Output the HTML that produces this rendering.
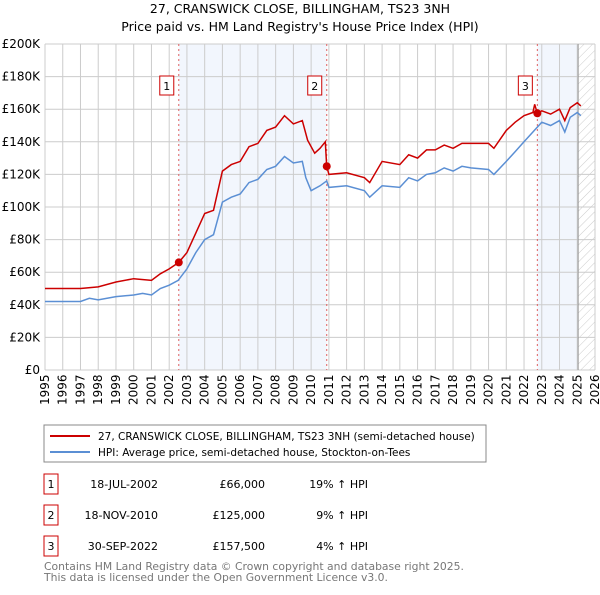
<!DOCTYPE html>
<html><head><meta charset="utf-8"><style>
body{margin:0;background:#fff;font-family:"Liberation Sans","DejaVu Sans",sans-serif;}
svg text{font-family:"DejaVu Sans","Liberation Sans",sans-serif;}
</style></head><body>
<svg id="c" width="600" height="590" xmlns="http://www.w3.org/2000/svg">
<defs><pattern id="hatch" width="6" height="6" patternUnits="userSpaceOnUse" patternTransform="rotate(45)"><rect width="6" height="6" fill="#fff"/><line x1="0" y1="0" x2="0" y2="6" stroke="#ccc" stroke-width="1"/></pattern></defs>
<text x="300" y="13" text-anchor="middle" font-size="12.5">27, CRANSWICK CLOSE, BILLINGHAM, TS23 3NH</text>
<text x="300" y="31" text-anchor="middle" font-size="12.5">Price paid vs. HM Land Registry's House Price Index (HPI)</text>
<g id="plot"></g>
<rect x="44" y="425" width="442" height="37" fill="#fff" stroke="#888"/>
<line x1="50" y1="436" x2="90" y2="436" stroke="#cc0000" stroke-width="2"/>
<text x="98" y="440" font-size="10.5">27, CRANSWICK CLOSE, BILLINGHAM, TS23 3NH (semi-detached house)</text>
<line x1="50" y1="452" x2="90" y2="452" stroke="#5b8fd4" stroke-width="2"/>
<text x="98" y="456" font-size="10.5">HPI: Average price, semi-detached house, Stockton-on-Tees</text>
<g id="table" font-size="11"></g>
<text x="44" y="570" font-size="10.8" fill="#777">Contains HM Land Registry data © Crown copyright and database right 2025.</text>
<text x="44" y="581" font-size="10.8" fill="#777">This data is licensed under the Open Government Licence v3.0.</text>
</svg>
<script>
const hpiYears=[1995,1996,1997,1997.5,1998,1999,2000,2000.5,2001,2001.5,2002,2002.5,2003,2003.5,2004,2004.5,2005,2005.5,2006,2006.5,2007,2007.5,2008,2008.5,2009,2009.5,2009.7,2010,2010.5,2010.88,2011,2012,2013,2013.3,2014,2015,2015.5,2016,2016.5,2017,2017.5,2018,2018.5,2019,2020,2020.3,2021,2021.5,2022,2022.5,2023,2023.5,2024,2024.3,2024.6,2025,2025.2];
const hpiValues=[42,42,42,44,43,45,46,47,46,50,52,55,62,72,80,83,103,106,108,115,117,123,125,131,127,128,118,110,113,116,112,113,110,106,113,112,118,116,120,121,124,122,125,124,123,120,128,134,140,146,152,150,153,146,155,158,156];
const priceYears=[1995,1996,1997,1998,1999,2000,2001,2001.5,2002,2002.54,2003,2003.5,2004,2004.5,2005,2005.5,2006,2006.5,2007,2007.5,2008,2008.5,2009,2009.5,2009.8,2010.2,2010.5,2010.8,2010.88,2011,2012,2013,2013.3,2014,2015,2015.5,2016,2016.5,2017,2017.5,2018,2018.5,2019,2020,2020.3,2021,2021.5,2022,2022.5,2022.6,2022.75,2023,2023.5,2024,2024.3,2024.6,2025,2025.2];
const priceValues=[50,50,50,51,54,56,55,59,62,66,72,84,96,98,122,126,128,137,139,147,149,156,151,153,141,133,136,140,125,120,121,118,115,128,126,132,130,135,135,138,136,139,139,139,136,147,152,156,158,163,157.5,159,157,160,153,161,164,162];
const saleYears=[2002.54,2010.88,2022.75];
const saleValues=[66,125,157.5];
const saleLabels=["1","2","3"];
const saleDates=["18-JUL-2002","18-NOV-2010","30-SEP-2022"];
const salePrices=["£66,000","£125,000","£157,500"];
const saleHpi=["19% ↑ HPI","9% ↑ HPI","4% ↑ HPI"];
const yTicks=[0,20,40,60,80,100,120,140,160,180,200];
const yTickLabels=["£0","£20K","£40K","£60K","£80K","£100K","£120K","£140K","£160K","£180K","£200K"];
const xTicks=[1995,1996,1997,1998,1999,2000,2001,2002,2003,2004,2005,2006,2007,2008,2009,2010,2011,2012,2013,2014,2015,2016,2017,2018,2019,2020,2021,2022,2023,2024,2025,2026];

const NS="http://www.w3.org/2000/svg";
const X0=45,X1=595,Y0=370,Y1=44;
const sx=v=>X0+(v-1995)/(2026-1995)*(X1-X0);
const sy=v=>Y0-v/200*(Y0-Y1);
const plot=document.getElementById('plot');
function mk(tag,attrs,parent){const e=document.createElementNS(NS,tag);for(const k in attrs)e.setAttribute(k,attrs[k]);(parent||plot).appendChild(e);return e;}
let s1=mk('rect',{x:sx(saleYears[0]),y:Y1,width:sx(saleYears[1])-sx(saleYears[0]),height:Y0-Y1,fill:'#eef3fc',opacity:0.75});


let s2=mk('rect',{x:sx(saleYears[2]),y:Y1,width:sx(2025.05)-sx(saleYears[2]),height:Y0-Y1,fill:'#eef3fc',opacity:0.75});


let hz=mk('rect',{x:sx(2025.05),y:Y1,width:X1-sx(2025.05),height:Y0-Y1,fill:'url(#hatch)'});


xTicks.forEach(t=>{let l=mk('line',{x1:sx(t),x2:sx(t),y1:Y1,y2:Y0,stroke:'#ccc','stroke-width':1});


let tx=mk('text',{x:0,y:0,'font-size':12,transform:`translate(${sx(t)+4},${Y0+35}) rotate(-90)`});tx.textContent=t;

});
yTicks.forEach((t,i)=>{let l=mk('line',{x1:X0,x2:X1,y1:sy(t),y2:sy(t),stroke:'#ccc','stroke-width':1});


let tx=mk('text',{x:X0-5,y:sy(t)+4,'font-size':12,'text-anchor':'end'});tx.textContent=yTickLabels[i];

});
let el=mk('line',{x1:sx(2025.05),x2:sx(2025.05),y1:Y1,y2:Y0,stroke:'#999','stroke-width':1});


saleYears.forEach((y,i)=>{let l=mk('line',{x1:sx(y),x2:sx(y),y1:Y1,y2:Y0,stroke:'#e06060','stroke-width':1,'stroke-dasharray':'2,3'});


let b=mk('rect',{x:sx(y)-19,y:76,width:14,height:19,fill:'#fff',stroke:'#cc0000'});


let t=mk('text',{x:sx(y)-12,y:90,'font-size':11,'text-anchor':'middle'});t.textContent=saleLabels[i];

});
const pathOf=(xs,vs)=>xs.map((x,i)=>(i?'L':'M')+sx(x).toFixed(1)+','+sy(vs[i]).toFixed(1)).join('');
let hp=mk('path',{d:pathOf(hpiYears,hpiValues),fill:'none',stroke:'#5b8fd4','stroke-width':1.5});


let pp=mk('path',{d:pathOf(priceYears,priceValues),fill:'none',stroke:'#cc0000','stroke-width':1.5});


saleYears.forEach((y,i)=>{let c=mk('circle',{cx:sx(y),cy:sy(saleValues[i]),r:4,fill:'#cc0000'});

});
const tb=document.getElementById('table');
saleLabels.forEach((s,i)=>{const y=484+i*31;
let b=mk('rect',{x:44,y:y-10,width:14,height:20,fill:'#fff',stroke:'#cc0000'},tb);


const cols=[[51,s,'middle'],[158,saleDates[i],'end'],[265,salePrices[i],'end'],[368,saleHpi[i],'end']];
cols.forEach(c=>{let t=mk('text',{x:c[0],y:y+4,'text-anchor':c[2],'font-size':11},tb);t.textContent=c[1];

});});
</script>
</body></html>
